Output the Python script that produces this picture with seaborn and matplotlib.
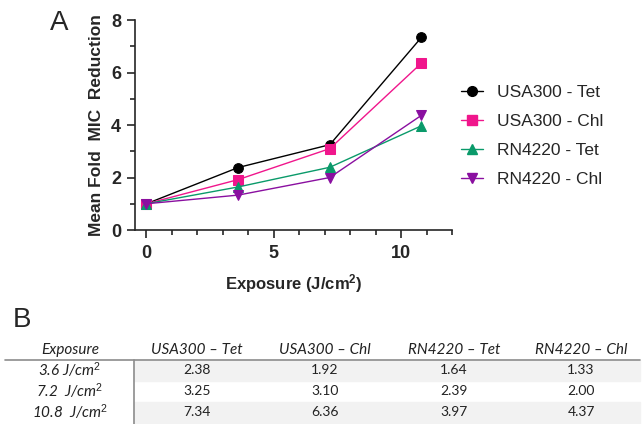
import numpy as np
import pandas as pd
import matplotlib.pyplot as plt
import seaborn as sns
from matplotlib.ticker import MultipleLocator

# data
exposure = [0, 3.6, 7.2, 10.8]
usa300_tet = [1.0, 2.38, 3.25, 7.34]
usa300_chl = [1.0, 1.92, 3.10, 6.36]
rn4220_tet = [1.0, 1.64, 2.39, 3.97]
rn4220_chl = [1.0, 1.33, 2.00, 4.37]
series_names = ["USA300 - Tet", "USA300 - Chl", "RN4220 - Tet", "RN4220 - Chl"]
table_cols = ["Exposure", "USA300 \u2013 Tet", "USA300 \u2013 Chl", "RN4220 \u2013 Tet", "RN4220 \u2013 Chl"]
table_rows = ["3.6 J/cm$^2$", "7.2  J/cm$^2$", "10.8  J/cm$^2$"]

series = [usa300_tet, usa300_chl, rn4220_tet, rn4220_chl]
df = pd.concat([pd.DataFrame({"Exposure": exposure, "MIC": s, "Group": n})
                for s, n in zip(series, series_names)])

colors = ["#000000", "#F0168C", "#0A9A6A", "#8A0FA0"]
markers = ["o", "s", "^", "v"]

sns.set_style("ticks")
plt.rcParams["font.family"] = ["Liberation Sans", "DejaVu Sans"]
plt.rcParams["font.sans-serif"] = ["Liberation Sans", "DejaVu Sans"]
plt.rcParams["mathtext.fontset"] = "custom"
plt.rcParams["mathtext.rm"] = "Liberation Sans"
plt.rcParams["mathtext.bf"] = "Liberation Sans:bold"

fig = plt.figure(figsize=(6.44, 4.24), dpi=100)
ax = fig.add_axes([0.2096, 0.4575, 0.4923, 0.4953])

sns.lineplot(data=df, x="Exposure", y="MIC", hue="Group", style="Group",
             palette=colors, markers=markers, dashes=False, markersize=7,
             linewidth=1, ax=ax)
for line, c in zip(ax.lines, colors):
    line.set_markeredgecolor(c)

ax.set_xlim(-0.45, 12)
ax.set_ylim(0, 8)
ax.xaxis.set_major_locator(MultipleLocator(5))
ax.xaxis.set_minor_locator(MultipleLocator(1))
ax.yaxis.set_major_locator(MultipleLocator(2))
ax.yaxis.set_minor_locator(MultipleLocator(1))
ax.tick_params(which="major", length=6, width=1.2, labelsize=13, pad=5)
ax.tick_params(which="minor", length=3.5, width=1.2)
ax.tick_params(axis="y", pad=4)
for lab in ax.get_xticklabels() + ax.get_yticklabels():
    lab.set_fontweight("bold")
for sp in ["left", "bottom"]:
    ax.spines[sp].set_linewidth(1.2)
sns.despine(ax=ax)
ax.set_xlabel("Exposure (J/cm$^\\mathbf{2}$)", fontsize=12, fontweight="bold", labelpad=7)
ax.set_ylabel("Mean Fold  MIC  Reduction", fontsize=12.5, fontweight="bold", labelpad=5)

leg = ax.legend(loc="upper left", bbox_to_anchor=(1.005, 0.725), frameon=False,
                fontsize=12.5, handlelength=1.3, labelspacing=0.8, handletextpad=0.8,
                borderaxespad=0)
for h, c in zip(leg.legend_handles, colors):
    h.set_markersize(7)
    h.set_markeredgewidth(1)
    h.set_markeredgecolor(c)
    h.set_markerfacecolor(c)

fig.text(0.078, 0.945, "A", fontsize=20, va="center", ha="left")
fig.text(0.02, 0.245, "B", fontsize=20, va="center", ha="left")

# table
W, H = 644, 424
col_x = [70, 197, 325, 454, 581]
row_y = [370, 391, 412]
tfont = ["Lato", "DejaVu Sans"]
fig.patches.append(plt.Rectangle((134 / W, 1 - 381 / H), (640 - 134) / W, 21 / H,
                                 transform=fig.transFigure, color="#F2F2F2", zorder=0))
fig.patches.append(plt.Rectangle((134 / W, 0), (640 - 134) / W, 1 - 402 / H,
                                 transform=fig.transFigure, color="#F2F2F2", zorder=0))
fig.lines.append(plt.Line2D([5 / W, 640 / W], [1 - 359.5 / H] * 2, transform=fig.transFigure,
                            color="#8C8C8C", lw=1.2))
fig.lines.append(plt.Line2D([134 / W] * 2, [1 - 359.5 / H, 0], transform=fig.transFigure,
                            color="#8C8C8C", lw=1.2))
for x, name in zip(col_x, table_cols):
    fig.text(x / W, 1 - 350 / H, name, ha="center", va="center", fontsize=11,
             style="italic", family=tfont, color="#222222")
for y, rname, i in zip(row_y, table_rows, range(3)):
    fig.text(col_x[0] / W, 1 - y / H, rname, ha="center", va="center", fontsize=11,
             style="italic", family=tfont, color="#222222")
    for x, s in zip(col_x[1:], series):
        fig.text(x / W, 1 - y / H, "%.2f" % s[i + 1], ha="center", va="center",
                 fontsize=10, family=tfont, color="#222222")

fig.savefig("out.png", dpi=100)
